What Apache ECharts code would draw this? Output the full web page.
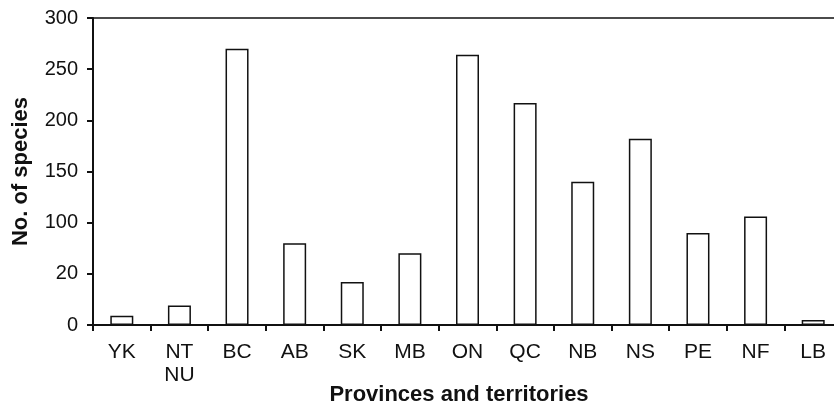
<!DOCTYPE html>
<html>
<head>
<meta charset="utf-8">
<script src="https://cdn.jsdelivr.net/npm/echarts@6/dist/echarts.min.js"></script>
<style>html,body{margin:0;padding:0;background:#fff}#c{width:834px;height:408px}</style>
</head>
<body>
<div id="c"></div>
<script>
const categories = ["YK", "NT\nNU", "BC", "AB", "SK", "MB", "ON", "QC", "NB", "NS", "PE", "NF", "LB"];
const speciesCount = [9, 19, 270, 80, 42, 70, 264, 217, 140, 182, 90, 106, 5];
const yTickValues = [0, 50, 100, 150, 200, 250, 300];
const yTickLabels = ["0", "20", "100", "150", "200", "250", "300"];

const FONT = "Liberation Sans, Arial, Helvetica, sans-serif";
const chart = echarts.init(document.getElementById('c'), null, {renderer: 'canvas'});
chart.setOption({
  animation: false,
  backgroundColor: '#fff',
  grid: {left: 93, top: 18, width: 749, bottom: 83, show: true, borderColor: '#111', borderWidth: 1.5,
         backgroundColor: 'transparent', containLabel: false, outerBoundsMode: 'none'},
  xAxis: {
    type: 'category',
    data: categories,
    name: 'Provinces and territories',
    nameLocation: 'middle',
    nameGap: 59,
    nameMoveOverlap: false,
    nameTextStyle: {fontFamily: FONT, fontSize: 22, fontWeight: 'bold', color: '#111', padding: [0, 17, 0, 0]},
    axisLine: {lineStyle: {color: '#111', width: 2}},
    axisTick: {show: true, length: 6, lineStyle: {color: '#111', width: 2}},
    axisLabel: {fontFamily: FONT, fontSize: 21, color: '#111', margin: 16, lineHeight: 23, interval: 0}
  },
  yAxis: {
    type: 'value',
    min: 0, max: 300, interval: 50,
    name: 'No. of species',
    nameLocation: 'middle',
    nameGap: 61,
    nameMoveOverlap: false,
    nameTextStyle: {fontFamily: FONT, fontSize: 22, fontWeight: 'bold', color: '#111'},
    axisLine: {show: true, lineStyle: {color: '#111', width: 2}},
    axisTick: {show: true, length: 6, lineStyle: {color: '#111', width: 2}},
    splitLine: {show: false},
    axisLabel: {
      fontFamily: FONT, fontSize: 20, color: '#111', margin: 15,
      formatter: function (v) { const i = yTickValues.indexOf(v); return i >= 0 ? yTickLabels[i] : ''; }
    }
  },
  series: [{
    type: 'bar',
    data: speciesCount,
    barWidth: 23,
    itemStyle: {color: '#fff', borderColor: '#111', borderWidth: 1.5}
  }]
});
</script>
</body>
</html>
